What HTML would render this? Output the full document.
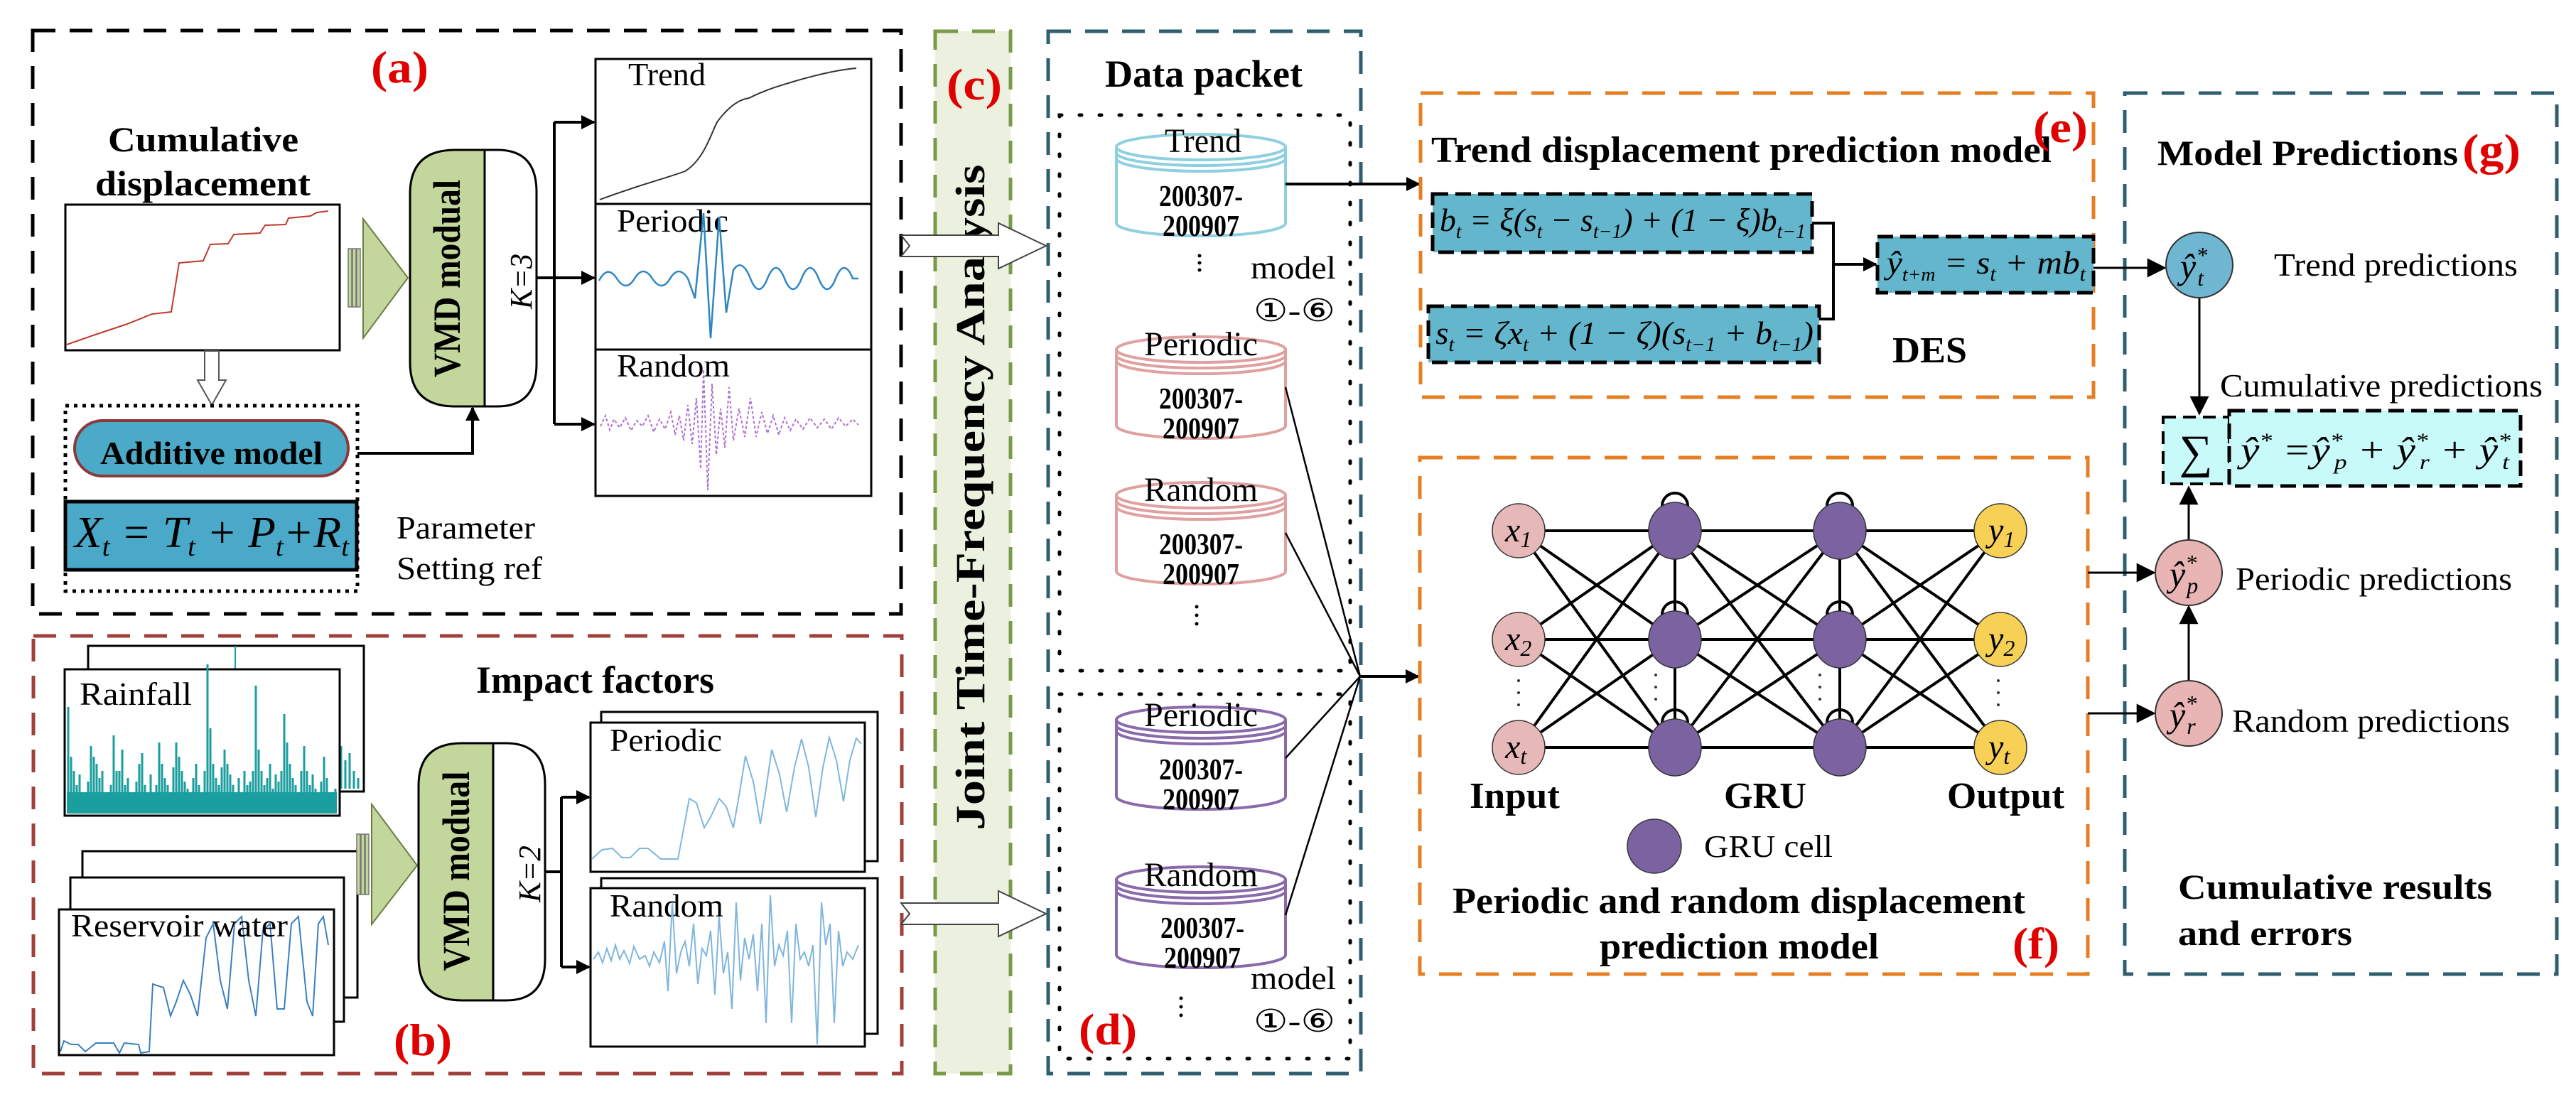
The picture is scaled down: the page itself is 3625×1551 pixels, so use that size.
<!DOCTYPE html>
<html><head><meta charset="utf-8"><style>
html,body{margin:0;padding:0;background:#fff;}
svg{display:block;}
text{font-family:"Liberation Serif",serif;}
.b{font-weight:bold;}
.i{font-style:italic;}
.red{fill:#e00000;font-weight:bold;}
</style></head><body>
<svg width="3625" height="1551" viewBox="0 0 3625 1551" xmlns="http://www.w3.org/2000/svg">
<defs>
<marker id="ah" viewBox="0 0 10 10" refX="9" refY="5" markerWidth="5" markerHeight="5" orient="auto" markerUnits="strokeWidth"><path d="M0,0 L10,5 L0,10 z" fill="#000"/></marker>
<marker id="ah2" viewBox="0 0 10 10" refX="9" refY="5" markerWidth="9" markerHeight="9" orient="auto" markerUnits="strokeWidth"><path d="M0,0 L10,5 L0,10 z" fill="#000"/></marker>
</defs>

<!-- ========== (a) ========== -->
<rect x="46" y="43" width="1222" height="821" fill="none" stroke="#000" stroke-width="5" stroke-dasharray="32,20"/>
<text x="522" y="116" class="red" font-size="64" textLength="81" lengthAdjust="spacingAndGlyphs">(a)</text>
<text x="152" y="213" class="b" font-size="50" textLength="268" lengthAdjust="spacingAndGlyphs">Cumulative</text>
<text x="134" y="275" class="b" font-size="50" textLength="303" lengthAdjust="spacingAndGlyphs">displacement</text>
<rect x="92" y="288" width="386" height="205" fill="#fff" stroke="#000" stroke-width="3"/>
<polyline fill="none" stroke="#c0392b" stroke-width="2" points="94,485 134,471 143,468 179,456 214,442 241,439 252,370 286,367 296,344 321,343 329,330 366,328 373,317 402,316 406,307 437,304 446,299 462,297"/>
<rect x="490" y="350" width="5" height="82" fill="#c3d69b" stroke="#777" stroke-width="1.5"/>
<rect x="496" y="350" width="5" height="82" fill="#c3d69b" stroke="#777" stroke-width="1.5"/>
<rect x="502" y="350" width="5" height="82" fill="#c3d69b" stroke="#777" stroke-width="1.5"/>
<polygon points="511,308 574,391 511,476" fill="#c3d69b" stroke="#6b7d45" stroke-width="2"/>
<path d="M682,211 L682,572 L640,572 Q577,572 577,510 L577,273 Q577,211 640,211 Z" fill="#c3d69b" stroke="#000" stroke-width="3"/>
<path d="M682,211 L700,211 Q755,211 755,270 L755,512 Q755,572 700,572 L682,572 Z" fill="#fff" stroke="#000" stroke-width="3"/>
<text transform="translate(647,392) rotate(-90)" text-anchor="middle" class="b" font-size="54" textLength="278" lengthAdjust="spacingAndGlyphs">VMD modual</text>
<text transform="translate(748,396) rotate(-90)" text-anchor="middle" class="i" font-size="44" textLength="78" lengthAdjust="spacingAndGlyphs">K=3</text>
<path d="M755,391 L780,391 M780,172 L780,597" stroke="#000" stroke-width="4" fill="none"/>
<path d="M780,172 L836,172" stroke="#000" stroke-width="4" marker-end="url(#ah)"/>
<path d="M780,391 L836,391" stroke="#000" stroke-width="4" marker-end="url(#ah)"/>
<path d="M780,597 L836,597" stroke="#000" stroke-width="4" marker-end="url(#ah)"/>
<rect x="838" y="83" width="388" height="615" fill="#fff" stroke="#000" stroke-width="3"/>
<line x1="838" y1="287" x2="1226" y2="287" stroke="#000" stroke-width="3"/>
<line x1="838" y1="492" x2="1226" y2="492" stroke="#000" stroke-width="3"/>
<text x="884" y="120" font-size="46" textLength="109" lengthAdjust="spacingAndGlyphs">Trend</text>
<text x="868" y="326" font-size="46" textLength="157" lengthAdjust="spacingAndGlyphs">Periodic</text>
<text x="868" y="530" font-size="46" textLength="159" lengthAdjust="spacingAndGlyphs">Random</text>
<path d="M844,281 C900,260 940,250 964,241 C990,225 1000,190 1009,172 C1025,150 1040,140 1054,138 C1080,125 1100,120 1116,115 C1150,105 1180,98 1205,96" fill="none" stroke="#333" stroke-width="2"/>
<path d="M843,395 Q855,372 868,392 T893,392 T918,392 T943,392 T968,392 L978,420 L990,300 L1000,476 L1012,305 L1022,440 L1032,380 Q1044,362 1056,392 T1080,392 T1104,392 T1128,392 T1152,392 T1176,392 T1200,392 L1208,392" fill="none" stroke="#2e86c1" stroke-width="2.5"/>
<polyline fill="none" stroke="#b070d0" stroke-width="2" stroke-dasharray="4,3" points="845,600 852,585 858,605 864,590 872,602 880,588 888,606 896,592 904,600 912,585 920,608 928,590 936,604 944,580 950,612 956,585 962,620 968,570 974,625 980,560 986,660 990,520 996,690 1002,540 1008,640 1014,575 1020,630 1026,545 1032,620 1040,575 1048,615 1056,560 1064,615 1072,580 1080,610 1088,585 1096,612 1104,588 1112,606 1120,590 1130,604 1140,588 1150,602 1160,590 1170,604 1180,588 1190,600 1200,590 1208,598"/>
<polygon points="288,494 308,494 308,535 318,535 298,570 278,535 288,535" fill="#fff" stroke="#555" stroke-width="2"/>
<rect x="92" y="571" width="411" height="261" fill="none" stroke="#000" stroke-width="5" stroke-dasharray="5,7"/>
<rect x="105" y="592" width="385" height="78" rx="39" fill="#4aaac8" stroke="#8b3a3a" stroke-width="4"/>
<text x="141" y="653" class="b" font-size="46" textLength="313" lengthAdjust="spacingAndGlyphs">Additive model</text>
<rect x="92" y="706" width="410" height="96" fill="#4aa8c8" stroke="#000" stroke-width="5"/>
<text x="105" y="770" class="i" font-size="62" textLength="386" lengthAdjust="spacingAndGlyphs">X<tspan font-size="38" dy="12">t</tspan><tspan dy="-12"> = T</tspan><tspan font-size="38" dy="12">t</tspan><tspan dy="-12"> + P</tspan><tspan font-size="38" dy="12">t</tspan><tspan dy="-12">+R</tspan><tspan font-size="38" dy="12">t</tspan></text>
<text x="558" y="758" font-size="46" textLength="195" lengthAdjust="spacingAndGlyphs">Parameter</text>
<text x="558" y="815" font-size="46" textLength="205" lengthAdjust="spacingAndGlyphs">Setting ref</text>
<path d="M503,638 L665,638 L665,574" fill="none" stroke="#000" stroke-width="4" marker-end="url(#ah)"/>

<!-- ========== (b) ========== -->
<rect x="47" y="895" width="1222" height="616" fill="none" stroke="#a0403a" stroke-width="5" stroke-dasharray="32,20"/>
<text x="670" y="975" class="b" font-size="54" textLength="335" lengthAdjust="spacingAndGlyphs">Impact factors</text>
<rect x="124" y="909" width="388" height="205" fill="#fff" stroke="#000" stroke-width="3"/>
<line x1="331" y1="909" x2="331" y2="942" stroke="#1a9e9e" stroke-width="2"/>
<path stroke="#1a9e9e" stroke-width="3" d="M480,1110v-60 M486,1110v-40 M492,1110v-50 M498,1110v-25 M504,1110v-15"/>
<rect x="91" y="942" width="387" height="206" fill="#fff" stroke="#000" stroke-width="3"/>
<text x="112" y="992" font-size="46" textLength="158" lengthAdjust="spacingAndGlyphs">Rainfall</text>
<rect x="94" y="1115" width="380" height="30" fill="#1a9e9e"/>
<path stroke="#1a9e9e" stroke-width="3" fill="none" d="M96,1145v-150 M100,1145v-80 M104,1145v-60 M108,1145v-40 M112,1145v-55 M116,1145v-30 M120,1145v-20 M124,1145v-45 M128,1145v-95 M132,1145v-80 M136,1145v-70 M140,1145v-50 M144,1145v-60 M148,1145v-30 M152,1145v-20 M156,1145v-40 M160,1145v-110 M164,1145v-60 M168,1145v-60 M172,1145v-90 M176,1145v-40 M180,1145v-50 M184,1145v-30 M188,1145v-25 M192,1145v-45 M196,1145v-70 M200,1145v-85 M204,1145v-40 M208,1145v-30 M212,1145v-55 M216,1145v-20 M220,1145v-40 M224,1145v-100 M228,1145v-70 M232,1145v-50 M236,1145v-40 M240,1145v-30 M244,1145v-65 M248,1145v-100 M252,1145v-80 M256,1145v-60 M260,1145v-45 M264,1145v-35 M268,1145v-25 M272,1145v-50 M276,1145v-70 M280,1145v-40 M284,1145v-30 M288,1145v-60 M292,1145v-210 M296,1145v-120 M300,1145v-70 M304,1145v-50 M308,1145v-40 M312,1145v-65 M316,1145v-90 M320,1145v-70 M324,1145v-55 M328,1145v-40 M332,1145v-25 M336,1145v-50 M340,1145v-30 M344,1145v-60 M348,1145v-40 M352,1145v-45 M356,1145v-60 M360,1145v-180 M364,1145v-90 M368,1145v-60 M372,1145v-40 M376,1145v-50 M380,1145v-70 M384,1145v-35 M388,1145v-55 M392,1145v-45 M396,1145v-60 M400,1145v-140 M404,1145v-100 M408,1145v-70 M412,1145v-50 M416,1145v-40 M420,1145v-30 M424,1145v-60 M428,1145v-95 M432,1145v-60 M436,1145v-40 M440,1145v-55 M444,1145v-35 M448,1145v-25 M452,1145v-45 M456,1145v-80 M460,1145v-50 M464,1145v-30 M468,1145v-20 M472,1145v-35"/>
<rect x="116" y="1198" width="387" height="206" fill="#fff" stroke="#000" stroke-width="3"/>
<rect x="99" y="1235" width="385" height="203" fill="#fff" stroke="#000" stroke-width="3"/>
<rect x="83" y="1280" width="387" height="205" fill="#fff" stroke="#000" stroke-width="3"/>
<polyline fill="none" stroke="#3a7fc0" stroke-width="2" points="85,1480 90,1465 100,1470 110,1470 120,1480 135,1468 160,1468 168,1482 175,1468 195,1470 198,1482 210,1480 215,1385 230,1390 240,1430 248,1410 258,1380 268,1400 278,1430 290,1320 300,1300 310,1380 320,1420 330,1300 340,1290 350,1380 360,1430 370,1310 380,1300 390,1420 400,1420 410,1300 420,1290 432,1410 440,1430 448,1300 455,1290 462,1330"/>
<text x="100" y="1318" font-size="46" textLength="305" lengthAdjust="spacingAndGlyphs">Reservoir water</text>
<rect x="502" y="1174" width="5" height="85" fill="#c3d69b" stroke="#777" stroke-width="1.5"/>
<rect x="508" y="1174" width="5" height="85" fill="#c3d69b" stroke="#777" stroke-width="1.5"/>
<rect x="514" y="1174" width="5" height="85" fill="#c3d69b" stroke="#777" stroke-width="1.5"/>
<polygon points="523,1132 587,1218 523,1301" fill="#c3d69b" stroke="#6b7d45" stroke-width="2"/>
<path d="M694,1046 L694,1408 L650,1408 Q589,1408 589,1348 L589,1106 Q589,1046 650,1046 Z" fill="#c3d69b" stroke="#000" stroke-width="3"/>
<path d="M694,1046 L712,1046 Q767,1046 767,1104 L767,1350 Q767,1408 712,1408 L694,1408 Z" fill="#fff" stroke="#000" stroke-width="3"/>
<text transform="translate(660,1226) rotate(-90)" text-anchor="middle" class="b" font-size="54" textLength="281" lengthAdjust="spacingAndGlyphs">VMD modual</text>
<text transform="translate(760,1230) rotate(-90)" text-anchor="middle" class="i" font-size="44" textLength="80" lengthAdjust="spacingAndGlyphs">K=2</text>
<path d="M767,1227 L790,1227 M790,1122 L790,1361" stroke="#000" stroke-width="4" fill="none"/>
<path d="M790,1122 L829,1122" stroke="#000" stroke-width="4" marker-end="url(#ah)"/>
<path d="M790,1361 L829,1361" stroke="#000" stroke-width="4" marker-end="url(#ah)"/>
<rect x="846" y="1002" width="389" height="210" fill="#fff" stroke="#000" stroke-width="3"/>
<rect x="831" y="1017" width="386" height="210" fill="#fff" stroke="#000" stroke-width="3"/>
<text x="858" y="1057" font-size="46" textLength="158" lengthAdjust="spacingAndGlyphs">Periodic</text>
<polyline fill="none" stroke="#7fb6dc" stroke-width="2" points="833,1209 847,1196 862,1194 875,1207 887,1207 900,1194 912,1194 930,1209 954,1209 970,1124 980,1130 991,1165 1000,1150 1012,1124 1022,1135 1032,1165 1040,1120 1049,1064 1060,1100 1070,1160 1078,1110 1086,1055 1097,1090 1107,1143 1118,1080 1128,1040 1138,1080 1148,1150 1158,1080 1167,1038 1177,1070 1187,1128 1196,1070 1205,1039 1212,1047"/>
<rect x="846" y="1236" width="389" height="219" fill="#fff" stroke="#000" stroke-width="3"/>
<rect x="831" y="1250" width="386" height="223" fill="#fff" stroke="#000" stroke-width="3"/>
<text x="858" y="1290" font-size="46" textLength="160" lengthAdjust="spacingAndGlyphs">Random</text>
<polyline fill="none" stroke="#7fb6dc" stroke-width="2" points="835,1350 842,1340 848,1355 854,1335 860,1352 866,1330 872,1350 878,1338 886,1356 892,1332 900,1350 908,1345 914,1360 920,1340 928,1355 935,1325 940,1395 946,1270 952,1370 958,1340 964,1325 970,1360 976,1300 982,1385 988,1335 994,1345 1000,1310 1006,1400 1012,1290 1018,1370 1024,1340 1030,1420 1036,1270 1042,1380 1048,1320 1054,1350 1060,1315 1066,1395 1072,1300 1078,1440 1084,1260 1090,1360 1096,1330 1102,1345 1108,1310 1114,1440 1120,1300 1126,1350 1132,1340 1138,1360 1144,1330 1150,1470 1156,1270 1162,1330 1168,1300 1174,1440 1180,1310 1186,1360 1192,1340 1200,1350 1208,1330"/>
<text x="595" y="1485" text-anchor="middle" class="red" font-size="64" textLength="82" lengthAdjust="spacingAndGlyphs">(b)</text>

<!-- ========== (c) ========== -->
<rect x="1316" y="44" width="106" height="1467" fill="#ebf1de" stroke="#7a9a4a" stroke-width="5" stroke-dasharray="32,20"/>
<text x="1332" y="140" class="red" font-size="62" textLength="78" lengthAdjust="spacingAndGlyphs">(c)</text>
<text transform="translate(1385,700) rotate(-90)" text-anchor="middle" class="b" font-size="58" textLength="937" lengthAdjust="spacingAndGlyphs">Joint Time-Frequency Analysis</text>
<polygon points="1268,331 1405,331 1405,314 1472,346 1405,378 1405,361 1268,361 1280,346" fill="#fff" stroke="#444" stroke-width="2"/>
<polygon points="1268,1271 1405,1271 1405,1254 1472,1286 1405,1318 1405,1301 1268,1301 1280,1286" fill="#fff" stroke="#444" stroke-width="2"/>

<!-- ========== Data packet ========== -->
<rect x="1475" y="44" width="440" height="1467" fill="none" stroke="#2f5f6f" stroke-width="5" stroke-dasharray="32,20"/>
<text x="1555" y="122" class="b" font-size="54" textLength="278" lengthAdjust="spacingAndGlyphs">Data packet</text>
<rect x="1491" y="162" width="409" height="782" fill="none" stroke="#000" stroke-width="5" stroke-dasharray="3,25" stroke-linecap="round"/>
<rect x="1491" y="977" width="409" height="513" fill="none" stroke="#000" stroke-width="5" stroke-dasharray="3,25" stroke-linecap="round"/>

<g fill="#fff" stroke-width="4">
<g stroke="#8ecfe0"><path d="M1571,207 L1571,314 A119,18 0 0 0 1809,314 L1809,207"/><ellipse cx="1690" cy="207" rx="119" ry="18"/><path d="M1571,215 A119,18 0 0 0 1809,215 M1571,223 A119,18 0 0 0 1809,223" fill="none"/></g>
<g stroke="#e0a0a0"><path d="M1571,492 L1571,599 A119,18 0 0 0 1809,599 L1809,492"/><ellipse cx="1690" cy="492" rx="119" ry="18"/><path d="M1571,500 A119,18 0 0 0 1809,500 M1571,508 A119,18 0 0 0 1809,508" fill="none"/></g>
<g stroke="#e0a0a0"><path d="M1571,697 L1571,804 A119,18 0 0 0 1809,804 L1809,697"/><ellipse cx="1690" cy="697" rx="119" ry="18"/><path d="M1571,705 A119,18 0 0 0 1809,705 M1571,713 A119,18 0 0 0 1809,713" fill="none"/></g>
<g stroke="#8a6aaa"><path d="M1571,1013 L1571,1121 A119,18 0 0 0 1809,1121 L1809,1013"/><ellipse cx="1690" cy="1013" rx="119" ry="18"/><path d="M1571,1021 A119,18 0 0 0 1809,1021 M1571,1029 A119,18 0 0 0 1809,1029" fill="none"/></g>
<g stroke="#8a6aaa"><path d="M1571,1238 L1571,1344 A119,18 0 0 0 1809,1344 L1809,1238"/><ellipse cx="1690" cy="1238" rx="119" ry="18"/><path d="M1571,1246 A119,18 0 0 0 1809,1246 M1571,1254 A119,18 0 0 0 1809,1254" fill="none"/></g>
</g>
<g text-anchor="middle">
<text x="1693" y="214" font-size="48" textLength="108" lengthAdjust="spacingAndGlyphs">Trend</text>
<text x="1690" y="290" class="b" font-size="42" textLength="118" lengthAdjust="spacingAndGlyphs">200307-</text>
<text x="1690" y="332" class="b" font-size="42" textLength="108" lengthAdjust="spacingAndGlyphs">200907</text>
<text x="1690" y="500" font-size="48" textLength="160" lengthAdjust="spacingAndGlyphs">Periodic</text>
<text x="1690" y="575" class="b" font-size="42" textLength="118" lengthAdjust="spacingAndGlyphs">200307-</text>
<text x="1690" y="617" class="b" font-size="42" textLength="108" lengthAdjust="spacingAndGlyphs">200907</text>
<text x="1690" y="705" font-size="48" textLength="160" lengthAdjust="spacingAndGlyphs">Random</text>
<text x="1690" y="780" class="b" font-size="42" textLength="118" lengthAdjust="spacingAndGlyphs">200307-</text>
<text x="1690" y="822" class="b" font-size="42" textLength="108" lengthAdjust="spacingAndGlyphs">200907</text>
<text x="1690" y="1022" font-size="48" textLength="160" lengthAdjust="spacingAndGlyphs">Periodic</text>
<text x="1690" y="1097" class="b" font-size="42" textLength="118" lengthAdjust="spacingAndGlyphs">200307-</text>
<text x="1690" y="1139" class="b" font-size="42" textLength="108" lengthAdjust="spacingAndGlyphs">200907</text>
<text x="1690" y="1247" font-size="48" textLength="160" lengthAdjust="spacingAndGlyphs">Random</text>
<text x="1692" y="1320" class="b" font-size="42" textLength="118" lengthAdjust="spacingAndGlyphs">200307-</text>
<text x="1692" y="1362" class="b" font-size="42" textLength="108" lengthAdjust="spacingAndGlyphs">200907</text>
</g>
<g fill="#000"><circle cx="1688" cy="360" r="2.5"/><circle cx="1688" cy="370" r="2.5"/><circle cx="1688" cy="380" r="2.5"/>
<circle cx="1684" cy="854" r="2.5"/><circle cx="1684" cy="866" r="2.5"/><circle cx="1684" cy="878" r="2.5"/>
<circle cx="1662" cy="1405" r="2.5"/><circle cx="1662" cy="1417" r="2.5"/><circle cx="1662" cy="1429" r="2.5"/></g>
<text x="1760" y="392" font-size="46" textLength="120" lengthAdjust="spacingAndGlyphs">model</text>
<text x="1764" y="452" font-size="44" textLength="115" lengthAdjust="spacingAndGlyphs">①-⑥</text>
<text x="1760" y="1392" font-size="46" textLength="120" lengthAdjust="spacingAndGlyphs">model</text>
<text x="1764" y="1452" font-size="44" textLength="115" lengthAdjust="spacingAndGlyphs">①-⑥</text>
<text x="1518" y="1470" class="red" font-size="62" textLength="82" lengthAdjust="spacingAndGlyphs">(d)</text>
<path d="M1809,259 L1997,259" stroke="#000" stroke-width="4" marker-end="url(#ah)"/>
<g stroke="#000" stroke-width="2.5"><line x1="1809" y1="545" x2="1914" y2="952"/><line x1="1809" y1="750" x2="1914" y2="952"/><line x1="1809" y1="1067" x2="1914" y2="952"/><line x1="1809" y1="1288" x2="1914" y2="952"/></g>
<path d="M1914,952 L1996,952" stroke="#000" stroke-width="4" marker-end="url(#ah)"/>

<!-- ========== (e) ========== -->
<rect x="1999" y="131" width="947" height="428" fill="none" stroke="#e67e22" stroke-width="5" stroke-dasharray="32,20"/>
<text x="2014" y="228" class="b" font-size="52" textLength="873" lengthAdjust="spacingAndGlyphs">Trend displacement prediction model</text>
<text x="2861" y="200" class="red" font-size="62" textLength="77" lengthAdjust="spacingAndGlyphs">(e)</text>
<rect x="2016" y="273" width="534" height="82" fill="#63b6cc" stroke="#000" stroke-width="5" stroke-dasharray="22,10"/>
<text x="2026" y="325" class="i" font-size="46" textLength="515" lengthAdjust="spacingAndGlyphs">b<tspan font-size="28" dy="10">t</tspan><tspan dy="-10"> = ξ(s</tspan><tspan font-size="28" dy="10">t</tspan><tspan dy="-10"> − s</tspan><tspan font-size="28" dy="10">t−1</tspan><tspan dy="-10">) + (1 − ξ)b</tspan><tspan font-size="28" dy="10">t−1</tspan></text>
<rect x="2010" y="431" width="550" height="79" fill="#63b6cc" stroke="#000" stroke-width="5" stroke-dasharray="22,10"/>
<text x="2020" y="484" class="i" font-size="46" textLength="532" lengthAdjust="spacingAndGlyphs">s<tspan font-size="28" dy="10">t</tspan><tspan dy="-10"> = ζx</tspan><tspan font-size="28" dy="10">t</tspan><tspan dy="-10"> + (1 − ζ)(s</tspan><tspan font-size="28" dy="10">t−1</tspan><tspan dy="-10"> + b</tspan><tspan font-size="28" dy="10">t−1</tspan><tspan dy="-10">)</tspan></text>
<path d="M2550,314 L2580,314 L2580,449 L2560,449" fill="none" stroke="#000" stroke-width="4"/>
<path d="M2580,372 L2640,372" stroke="#000" stroke-width="4" marker-end="url(#ah)"/>
<rect x="2642" y="333" width="304" height="79" fill="#63b6cc" stroke="#000" stroke-width="5" stroke-dasharray="22,10"/>
<text x="2655" y="385" class="i" font-size="46" textLength="280" lengthAdjust="spacingAndGlyphs">ŷ<tspan font-size="26" dy="10">t+m</tspan><tspan dy="-10"> = s</tspan><tspan font-size="28" dy="10">t</tspan><tspan dy="-10"> + mb</tspan><tspan font-size="28" dy="10">t</tspan></text>
<text x="2663" y="510" class="b" font-size="52" textLength="105" lengthAdjust="spacingAndGlyphs">DES</text>

<!-- ========== (f) ========== -->
<rect x="1998" y="644" width="940" height="727" fill="none" stroke="#e67e22" stroke-width="5" stroke-dasharray="32,20"/>
<g stroke="#000" stroke-width="4">
<path d="M2137,747 L2357,747 M2137,747 L2357,900 M2137,747 L2357,1052 M2137,900 L2357,747 M2137,900 L2357,900 M2137,900 L2357,1052 M2137,1052 L2357,747 M2137,1052 L2357,900 M2137,1052 L2357,1052"/>
<path d="M2357,747 L2589,747 M2357,747 L2589,900 M2357,747 L2589,1052 M2357,900 L2589,747 M2357,900 L2589,900 M2357,900 L2589,1052 M2357,1052 L2589,747 M2357,1052 L2589,900 M2357,1052 L2589,1052"/>
<path d="M2589,747 L2815,747 M2589,747 L2815,900 M2589,747 L2815,1052 M2589,900 L2815,747 M2589,900 L2815,900 M2589,900 L2815,1052 M2589,1052 L2815,747 M2589,1052 L2815,900 M2589,1052 L2815,1052"/>
<path d="M2357,747 L2357,1052 M2589,747 L2589,1052"/>
<path fill="none" d="M2339,712 A18,18 0 1 1 2375,712 M2339,865 A18,18 0 1 1 2375,865 M2339,1017 A18,18 0 1 1 2375,1017 M2571,712 A18,18 0 1 1 2607,712 M2571,865 A18,18 0 1 1 2607,865 M2571,1017 A18,18 0 1 1 2607,1017"/>
</g>
<g stroke="#333" stroke-width="1.5">
<ellipse cx="2137" cy="747" rx="37" ry="38" fill="#e6b8b7"/><ellipse cx="2137" cy="900" rx="37" ry="38" fill="#e6b8b7"/><ellipse cx="2137" cy="1052" rx="37" ry="38" fill="#e6b8b7"/>
<ellipse cx="2357" cy="747" rx="37" ry="40" fill="#7b62a0"/><ellipse cx="2357" cy="900" rx="37" ry="40" fill="#7b62a0"/><ellipse cx="2357" cy="1052" rx="37" ry="40" fill="#7b62a0"/>
<ellipse cx="2589" cy="747" rx="37" ry="40" fill="#7b62a0"/><ellipse cx="2589" cy="900" rx="37" ry="40" fill="#7b62a0"/><ellipse cx="2589" cy="1052" rx="37" ry="40" fill="#7b62a0"/>
<ellipse cx="2815" cy="747" rx="37" ry="38" fill="#f6d155"/><ellipse cx="2815" cy="900" rx="37" ry="38" fill="#f6d155"/><ellipse cx="2815" cy="1052" rx="37" ry="38" fill="#f6d155"/>
<ellipse cx="2328" cy="1191" rx="38" ry="38" fill="#7b62a0"/>
</g>
<g fill="#333"><circle cx="2137" cy="958" r="2"/><circle cx="2137" cy="975" r="2"/><circle cx="2137" cy="992" r="2"/>
<circle cx="2330" cy="950" r="2"/><circle cx="2330" cy="967" r="2"/><circle cx="2330" cy="984" r="2"/>
<circle cx="2561" cy="950" r="2"/><circle cx="2561" cy="967" r="2"/><circle cx="2561" cy="984" r="2"/>
<circle cx="2812" cy="958" r="2"/><circle cx="2812" cy="975" r="2"/><circle cx="2812" cy="992" r="2"/></g>
<g class="i" font-size="48">
<text x="2118" y="762">x<tspan font-size="32" dy="8">1</tspan></text>
<text x="2118" y="915">x<tspan font-size="32" dy="8">2</tspan></text>
<text x="2118" y="1067">x<tspan font-size="32" dy="8">t</tspan></text>
<text x="2798" y="762">y<tspan font-size="32" dy="8">1</tspan></text>
<text x="2798" y="915">y<tspan font-size="32" dy="8">2</tspan></text>
<text x="2798" y="1067">y<tspan font-size="32" dy="8">t</tspan></text>
</g>
<text x="2068" y="1137" class="b" font-size="52" textLength="127" lengthAdjust="spacingAndGlyphs">Input</text>
<text x="2426" y="1137" class="b" font-size="52" textLength="116" lengthAdjust="spacingAndGlyphs">GRU</text>
<text x="2740" y="1137" class="b" font-size="52" textLength="165" lengthAdjust="spacingAndGlyphs">Output</text>
<text x="2398" y="1206" font-size="44" textLength="181" lengthAdjust="spacingAndGlyphs">GRU cell</text>
<text x="2044" y="1285" class="b" font-size="52" textLength="806" lengthAdjust="spacingAndGlyphs">Periodic and random displacement</text>
<text x="2251" y="1349" class="b" font-size="52" textLength="393" lengthAdjust="spacingAndGlyphs">prediction model</text>
<text x="2832" y="1349" class="red" font-size="62" textLength="66" lengthAdjust="spacingAndGlyphs">(f)</text>

<!-- ========== (g) ========== -->
<rect x="2990" y="131" width="608" height="1240" fill="none" stroke="#2f5f6f" stroke-width="5" stroke-dasharray="32,20"/>
<text x="3036" y="232" class="b" font-size="50" textLength="423" lengthAdjust="spacingAndGlyphs">Model Predictions</text>
<text x="3465" y="232" class="red" font-size="62" textLength="82" lengthAdjust="spacingAndGlyphs">(g)</text>
<path d="M2946,377 L3046,377" stroke="#000" stroke-width="3" marker-end="url(#ah2)"/>
<path d="M2938,806 L3031,806" stroke="#000" stroke-width="3" marker-end="url(#ah2)"/>
<path d="M2938,1004 L3031,1004" stroke="#000" stroke-width="3" marker-end="url(#ah2)"/>
<path d="M3095,420 L3095,582" stroke="#000" stroke-width="3" marker-end="url(#ah2)"/>
<path d="M3080,760 L3080,686" stroke="#000" stroke-width="3" marker-end="url(#ah2)"/>
<path d="M3080,958 L3080,854" stroke="#000" stroke-width="3" marker-end="url(#ah2)"/>
<ellipse cx="3095" cy="373" rx="47" ry="46" fill="#6fb7d1" stroke="#333" stroke-width="2"/>
<ellipse cx="3080" cy="806" rx="47" ry="46" fill="#e8b4b4" stroke="#333" stroke-width="2"/>
<ellipse cx="3080" cy="1004" rx="47" ry="46" fill="#e8b4b4" stroke="#333" stroke-width="2"/>
<g class="i" font-size="50">
<text x="3068" y="392">ŷ<tspan font-size="32" dy="-22">*</tspan><tspan font-size="32" dx="-14" dy="32">t</tspan></text>
<text x="3053" y="825">ŷ<tspan font-size="32" dy="-22">*</tspan><tspan font-size="32" dx="-14" dy="32">p</tspan></text>
<text x="3053" y="1023">ŷ<tspan font-size="32" dy="-22">*</tspan><tspan font-size="32" dx="-14" dy="32">r</tspan></text>
</g>
<text x="3200" y="388" font-size="46" textLength="343" lengthAdjust="spacingAndGlyphs">Trend predictions</text>
<text x="3124" y="558" font-size="46" textLength="454" lengthAdjust="spacingAndGlyphs">Cumulative predictions</text>
<text x="3146" y="830" font-size="46" textLength="389" lengthAdjust="spacingAndGlyphs">Periodic predictions</text>
<text x="3141" y="1030" font-size="46" textLength="391" lengthAdjust="spacingAndGlyphs">Random predictions</text>
<text x="3065" y="1265" class="b" font-size="50" textLength="442" lengthAdjust="spacingAndGlyphs">Cumulative results</text>
<text x="3065" y="1330" class="b" font-size="50" textLength="245" lengthAdjust="spacingAndGlyphs">and errors</text>
<rect x="3044" y="587" width="93" height="94" fill="#c8fafa" stroke="#000" stroke-width="4" stroke-dasharray="18,10"/>
<rect x="3137" y="578" width="410" height="106" fill="#c8fafa" stroke="#000" stroke-width="5" stroke-dasharray="22,10"/>
<text x="3090" y="658" text-anchor="middle" font-size="66">∑</text>
<text x="3153" y="650" class="i" font-size="50" textLength="380" lengthAdjust="spacingAndGlyphs">ŷ<tspan font-size="30" dy="-20">*</tspan><tspan dy="20"> =ŷ</tspan><tspan font-size="30" dy="-20">*</tspan><tspan font-size="30" dx="-10" dy="30">p</tspan><tspan dy="-10"> + ŷ</tspan><tspan font-size="30" dy="-20">*</tspan><tspan font-size="30" dx="-10" dy="30">r</tspan><tspan dy="-10"> + ŷ</tspan><tspan font-size="30" dy="-20">*</tspan><tspan font-size="30" dx="-10" dy="30">t</tspan></text>
</svg>
</body></html>
